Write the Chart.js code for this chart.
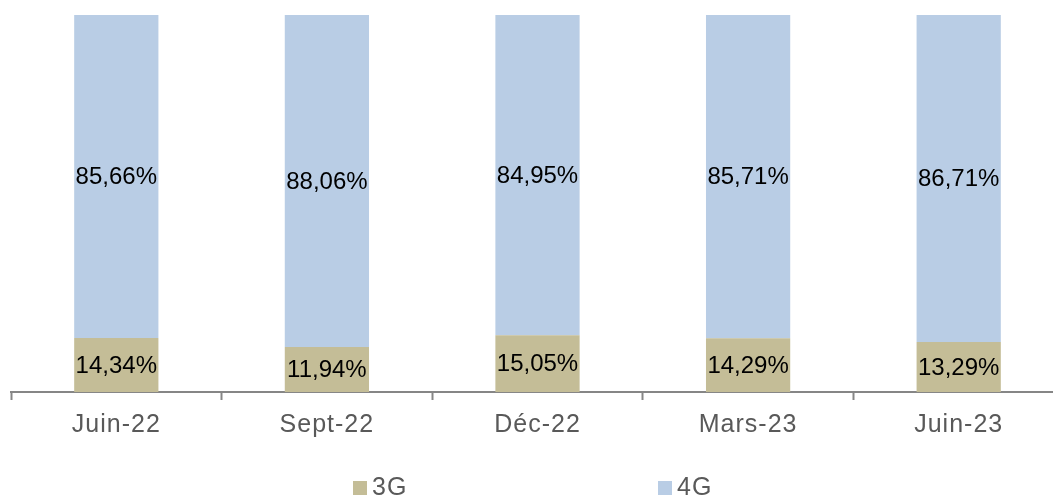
<!DOCTYPE html>
<html>
<head>
<meta charset="utf-8">
<script src="https://cdn.jsdelivr.net/npm/chart.js@4"></script>
<style>
  html, body { margin: 0; padding: 0; background: #fff; overflow: hidden; }
  #wrap { position: relative; width: 1064px; height: 498px; }
</style>
</head>
<body>
<div id="wrap"><canvas id="techChart"></canvas></div>
<script>
const periods = ['Juin-22', 'Sept-22', 'Déc-22', 'Mars-23', 'Juin-23'];
const share3G = [14.34, 11.94, 15.05, 14.29, 13.29];
const share4G = [85.66, 88.06, 84.95, 85.71, 86.71];

const FONT = "'Liberation Sans', Arial, sans-serif";

// percentage labels inside each segment
const segmentLabels = {
    id: 'segmentLabels',
    beforeDraw(chart) {
        chart.ctx.letterSpacing = '1px';
    },
    beforeDatasetsDraw(chart) {
        chart.ctx.letterSpacing = '0px';
    },
    afterDatasetsDraw(chart) {
        const ctx = chart.ctx;
        ctx.save();
        ctx.font = '24px ' + FONT;
        ctx.fillStyle = '#000';
        ctx.textAlign = 'center';
        ctx.textBaseline = 'middle';
        chart.data.datasets.forEach((ds, i) => {
            chart.getDatasetMeta(i).data.forEach((bar, j) => {
                const txt = ds.data[j].toFixed(2).replace('.', ',') + '%';
                ctx.fillText(txt, bar.x, (bar.y + bar.base) / 2 + 1);
            });
        });
        ctx.restore();
    }
};

// legend at the bottom, items spread wide apart
const wideLegend = {
    id: 'wideLegend',
    afterDraw(chart) {
        const ctx = chart.ctx;
        const starts = [353, 658];
        ctx.save();
        ctx.letterSpacing = '1px';
        ctx.font = '25px ' + FONT;
        ctx.textBaseline = 'middle';
        ctx.textAlign = 'left';
        chart.data.datasets.forEach((ds, i) => {
            const x = starts[i];
            ctx.fillStyle = ds.backgroundColor;
            ctx.fillRect(x, 481, 14, 14);
            ctx.fillStyle = '#595959';
            ctx.fillText(ds.label, x + 19, 488);
        });
        ctx.restore();
    }
};

new Chart(document.getElementById('techChart'), {
    type: 'bar',
    data: {
        labels: periods,
        datasets: [
            { label: '3G', data: share3G, backgroundColor: '#C4BD97' },
            { label: '4G', data: share4G, backgroundColor: '#B9CDE5' }
        ]
    },
    options: {
        responsive: true,
        maintainAspectRatio: false,
        animation: false,
        events: [],
        layout: { padding: { left: 11, top: 15, right: 0, bottom: 0 } },
        datasets: {
            bar: { barPercentage: 0.4, categoryPercentage: 1.0, borderWidth: 0 }
        },
        plugins: {
            legend: { display: false },
            tooltip: { enabled: false }
        },
        scales: {
            x: {
                stacked: true,
                afterFit: (scale) => { scale.height = 106; },
                border: { display: true, color: '#868686', width: 2 },
                grid: {
                    offset: true,
                    drawOnChartArea: false,
                    drawTicks: true,
                    tickLength: 8,
                    tickWidth: 2,
                    color: '#868686'
                },
                ticks: {
                    padding: 10,
                    color: '#595959',
                    font: { family: FONT, size: 25 }
                }
            },
            y: {
                stacked: true,
                display: false,
                min: 0,
                max: 100
            }
        }
    },
    plugins: [segmentLabels, wideLegend]
});
</script>
</body>
</html>
